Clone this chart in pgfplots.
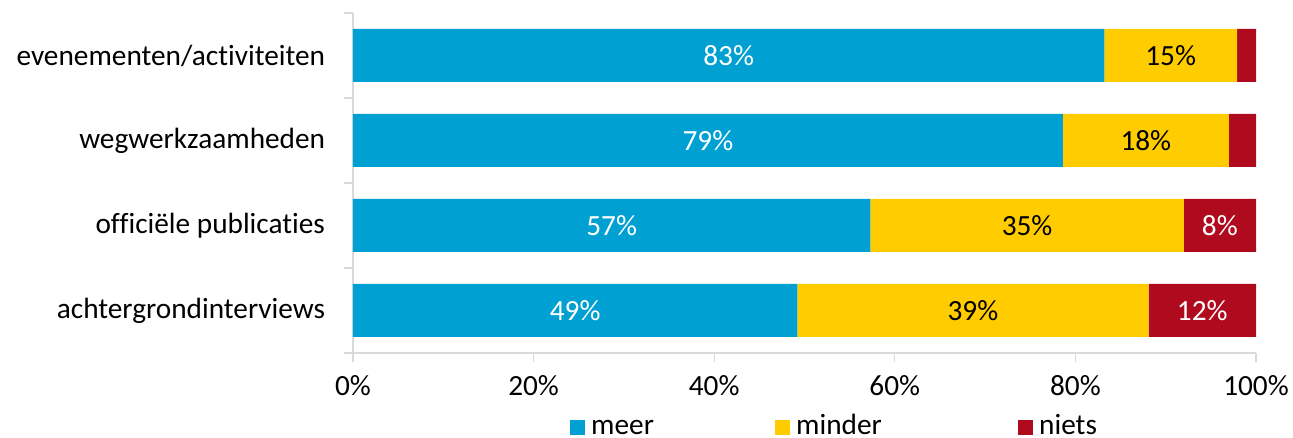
\documentclass[border=0pt]{standalone}
\usepackage{pgfplots}
\pgfplotsset{compat=1.18}
\usepackage{fontspec}
\setmainfont{Carlito}[Ligatures=NoCommon]
\definecolor{cblue}{RGB}{0,160,210}
\definecolor{cyellow}{RGB}{255,204,0}
\definecolor{cred}{RGB}{176,10,30}
\definecolor{axgray}{RGB}{217,217,217}
\begin{document}
\fontsize{29.3}{35}\selectfont
\begin{tikzpicture}
\useasboundingbox (-353pt,-85pt) rectangle (940pt,353pt);
\begin{axis}[
  at={(0pt,0pt)}, anchor=south west,
  scale only axis, width=903pt, height=340pt,
  xmin=0, xmax=100, ymin=-0.5, ymax=3.5,
  xbar stacked, bar width=53pt,
  axis lines*=left,
  axis line style={axgray, line width=1.3pt},
  xtick={0,20,...,100}, xticklabels={0\%,20\%,40\%,60\%,80\%,100\%},
  ytick={0,1,2,3},
  yticklabels={achtergrondinterviews, officiële publicaties, wegwerkzaamheden, evenementen/activiteiten},
  minor xtick={0,20,...,100},
  minor ytick={-0.5,0.5,1.5,2.5,3.5},
  tick align=outside,
  major tick length=0pt, minor tick length=9pt,
  minor tick style={axgray, line width=1.3pt},
  major tick style={draw=none},
  xticklabel style={yshift=-13pt},
  yticklabel style={xshift=-18pt},
  legend style={draw=none, fill=none, at={(0.2403,-0.2013)}, anchor=west, inner sep=0pt,
    nodes={inner sep=1pt, text height=20pt, text depth=2pt},
    /tikz/every odd column/.append style={column sep=5pt},
    /tikz/every even column/.append style={column sep=0pt}},
  legend columns=3,
  legend image code/.code={\path[fill=none, draw=none] (0pt,-10pt) rectangle (15pt,20pt);
    \fill[#1, draw=none] (0pt,-9.5pt) rectangle (15pt,5.5pt);},
]
\addplot[fill=cblue, draw=none] coordinates {(49.2,0) (57.3,1) (78.6,2) (83.2,3)};
\addplot[fill=cyellow, draw=none] coordinates {(38.9,0) (34.7,1) (18.4,2) (14.7,3)};
\addplot[fill=cred, draw=none] coordinates {(11.9,0) (8.0,1) (3.0,2) (2.1,3)};
\legend{\makebox[183pt][l]{meer}, \makebox[221pt][l]{minder}, niets}
\end{axis}
\begin{axis}[
  at={(0pt,0pt)}, anchor=south west,
  scale only axis, width=903pt, height=340pt,
  xmin=0, xmax=100, ymin=-0.5, ymax=3.5,
  hide axis,
  nodes near coords, point meta=explicit symbolic,
  nodes near coords align={center},
]
\addplot[draw=none, mark=none, every node near coord/.append style={white, anchor=center}]
  coordinates {(24.6,0) [49\%] (28.65,1) [57\%] (39.3,2) [79\%] (41.6,3) [83\%]};
\addplot[draw=none, mark=none, every node near coord/.append style={black, anchor=center}]
  coordinates {(68.65,0) [39\%] (74.65,1) [35\%] (87.8,2) [18\%] (90.55,3) [15\%]};
\addplot[draw=none, mark=none, every node near coord/.append style={white, anchor=center}]
  coordinates {(94.05,0) [12\%] (96.0,1) [8\%]};
\end{axis}
\end{tikzpicture}
\end{document}
